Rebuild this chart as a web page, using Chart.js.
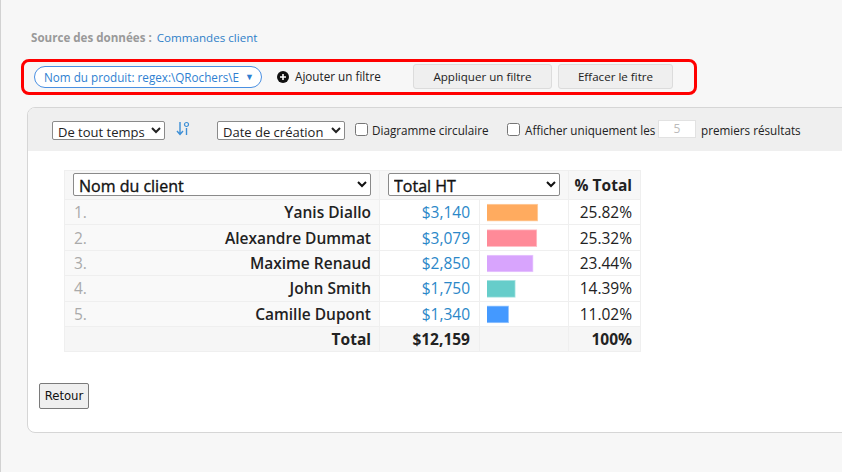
<!DOCTYPE html>
<html lang="fr">
<head>
<meta charset="utf-8">
<script src="https://cdn.jsdelivr.net/npm/chart.js@4/dist/chart.umd.min.js"></script>
<style>
  html, body { margin: 0; padding: 0; }
  body {
    width: 842px; height: 472px; overflow: hidden; position: relative;
    background: #f7f7f7; font-family: "Open Sans", sans-serif; color: #222;
  }
  .abs { position: absolute; }
  .edge { left: 0; top: 0; width: 1px; height: 472px; background: #d2d2d2; }
  .source { left: 31px; top: 30px; font-size: 11.6px; }
  .source b { color: #9a9a9a; font-weight: 700; }
  .source a { color: #2f80c8; text-decoration: none; margin-left: 2px; }
  .redbox { left: 21px; top: 59px; width: 676px; height: 36px; border: 3px solid #ff0000;
    border-radius: 8px; box-sizing: border-box; }
  .pill { left: 34px; top: 66px; width: 228px; height: 22px; border: 1px solid #4a90e2;
    border-radius: 12px; box-sizing: border-box; color: #2f7fd1; font-size: 11.7px;
    line-height: 20px; padding-left: 9px; background: #fff; }
  .pill .tri { position: absolute; right: 7px; top: 0; font-size: 9px; color: #2f7fd1; }
  .addf { left: 277px; top: 67px; font-size: 11.7px; line-height: 18px; }
  .addf svg { vertical-align: -2px; margin-right: 6px; }
  .btn { top: 64px; height: 25px; background: #efefef; border: 1px solid #dcdcdc;
    border-radius: 3px; box-sizing: border-box; font-size: 11.6px; line-height: 23px;
    text-align: center; color: #222; }
  .card { left: 27px; top: 107px; width: 900px; height: 326px; background: #fff;
    border: 1px solid #d6d6d6; border-radius: 8px; box-sizing: border-box; overflow: hidden; }
  .cardhead { position: absolute; left: 0; top: 0; right: 0; height: 43px; background: #efefef; }
  select.sm { position: absolute; height: 19px; font-family: "Open Sans", sans-serif;
    font-size: 13px; padding: 0 1px; border: 1px solid #8a8a8a; border-radius: 2px;
    background: #fff; color: #222; }
  .chk { position: absolute; width: 13px; height: 13px; margin: 0; }
  .lbl { position: absolute; font-size: 11.7px; line-height: 18px; color: #222; }
  .num5 { left: 658px; top: 120px; width: 38px; height: 18px; border: 1px solid #e2e2e2;
    box-sizing: border-box; background: #fff; color: #bbb; font-size: 12px;
    text-align: center; line-height: 16px; }
  table.res { position: absolute; left: 64px; top: 170px; border-collapse: collapse;
    table-layout: fixed; width: 576px; font-size: 15.5px; }
  table.res td, table.res th { border: 1px solid #efefef; padding: 0; }
  table.res thead th { height: 28px; background: #f7f7f7; }
  table.res tbody td { height: 24.4px; }
  select.big { width: calc(100% - 16px); margin: 0 8px; height: 23px; font-family: "Open Sans", sans-serif;
    font-size: 16px; font-weight: 400; -webkit-text-stroke: 0.35px #111; color: #111;
    border: 1px solid #8a8a8a; border-radius: 2px; background: #fff; padding: 0 1px; }
  .name { background: #f9f9f9; font-weight: 600; text-align: right; padding-right: 8px !important; position: relative; }
  .name .rk { position: absolute; left: 9px; top: 50%; transform: translateY(-50%); color: #aaa; font-weight: 400; }
  .amt { text-align: right; color: #2b87c8; padding-right: 9px !important; }
  .pct { text-align: right; padding-right: 8px !important; }
  .tot td { background: #f6f6f6; font-weight: 700; }
  .retour { left: 39px; top: 383px; width: 50px; height: 26px; background: #efefef;
    border: 1px solid #7a7a7a; border-radius: 2px; box-sizing: border-box;
    font-family: "DejaVu Sans Condensed", "DejaVu Sans", sans-serif; font-stretch: condensed;
    font-size: 13px; line-height: 24px; text-align: center; color: #111; }
  #barCanvas { position: absolute; }
</style>
</head>
<body>

<div class="abs edge"></div>
<div class="abs source"><b>Source des données :</b> <a>Commandes client</a></div>

<div class="abs pill">Nom du produit: regex:\QRochers\E<span class="tri">▼</span></div>
<div class="abs addf"><svg width="12" height="12" viewBox="0 0 12 12"><circle cx="6" cy="6" r="6" fill="#111"/><path d="M6 3v6M3 6h6" stroke="#fff" stroke-width="1.6"/></svg>Ajouter un filtre</div>
<div class="abs btn" style="left:413px;width:139px">Appliquer un filtre</div>
<div class="abs btn" style="left:558px;width:115px">Effacer le fitre</div>
<div class="abs redbox"></div>

<div class="abs card"><div class="cardhead"></div></div>

<select class="sm" style="left:52px;top:121px;width:113px"><option>De tout temps</option></select>
<svg class="abs" style="left:176px;top:121px" width="14" height="16" viewBox="0 0 14 16">
  <path d="M4 1v12M1 10l3 3.5 3-3.5" stroke="#3d8fd6" stroke-width="1.4" fill="none"/>
  <circle cx="10.5" cy="3.5" r="2" stroke="#3d8fd6" stroke-width="1.2" fill="none"/>
  <path d="M10.5 7v7" stroke="#3d8fd6" stroke-width="1.4"/>
</svg>
<select class="sm" style="left:217px;top:121px;width:128px"><option>Date de création</option></select>
<input type="checkbox" class="chk" style="left:355px;top:123px">
<div class="lbl" style="left:372px;top:121px">Diagramme circulaire</div>
<input type="checkbox" class="chk" style="left:507px;top:123px">
<div class="lbl" style="left:525px;top:121px">Afficher uniquement les</div>
<div class="abs num5">5</div>
<div class="lbl" style="left:701px;top:121px">premiers résultats</div>

<table class="res" id="resTable">
  <colgroup><col style="width:315px"><col style="width:100px"><col style="width:89px"><col style="width:72px"></colgroup>
  <thead>
    <tr>
      <th><select class="big"><option>Nom du client</option></select></th>
      <th colspan="2"><select class="big"><option>Total HT</option></select></th>
      <th class="pct" style="font-weight:700">% Total</th>
    </tr>
  </thead>
  <tbody id="resBody"></tbody>
</table>

<canvas id="barCanvas"></canvas>

<div class="abs retour">Retour</div>

<script>
const clients = ["Yanis Diallo", "Alexandre Dummat", "Maxime Renaud", "John Smith", "Camille Dupont"];
const totals = [3140, 3079, 2850, 1750, 1340];
const percents = ["25.82%", "25.32%", "23.44%", "14.39%", "11.02%"];
const grandTotal = "$12,159";
const grandPercent = "100%";
const barColors = ["#ffab5f", "#ff8a98", "#d8a4fd", "#66cdca", "#4499ff"];
const barBorders = ["#ffcfa3", "#ffc0c8", "#e8c9fe", "#a6e2e0", "#9cc9ff"];

const tbody = document.getElementById("resBody");
for (let i = 0; i < clients.length; i++) {
	tbody.innerHTML += `<tr>
		<td class="name"><span class="rk">${i + 1}.</span>${clients[i]}</td>
		<td class="amt">$${totals[i].toLocaleString("en-US")}</td>
		<td class="barcell"></td>
		<td class="pct">${percents[i]}</td>
	</tr>`;
}
tbody.innerHTML += `<tr class="tot">
	<td class="name" style="font-weight:700">Total</td>
	<td class="amt" style="color:#222">${grandTotal}</td>
	<td></td>
	<td class="pct">${grandPercent}</td>
</tr>`;

// canvas goes over the bar column, from first row to last client row
const cells = document.querySelectorAll(".barcell");
const first = cells[0].getBoundingClientRect();
const last = cells[cells.length - 1].getBoundingClientRect();
const canvas = document.getElementById("barCanvas");
canvas.style.left = first.left + "px";
canvas.style.top = first.top + "px";
canvas.width = Math.round(first.width);
canvas.height = Math.round(last.bottom - first.top);
canvas.style.width = canvas.width + "px";
canvas.style.height = canvas.height + "px";

new Chart(canvas, {
	type: "bar",
	data: {
		labels: clients,
		datasets: [{
			data: totals,
			backgroundColor: barColors,
			borderColor: barBorders,
			borderWidth: 1,
			barThickness: 17
		}]
	},
	options: {
		indexAxis: "y",
		responsive: false,
		animation: false,
		layout: { padding: { left: 7, right: 1, top: 0, bottom: 0 } },
		scales: {
			x: { display: false, min: 0, max: 5000 },
			y: { display: false }
		},
		plugins: {
			legend: { display: false },
			tooltip: { enabled: false }
		}
	}
});
</script>
</body>
</html>
